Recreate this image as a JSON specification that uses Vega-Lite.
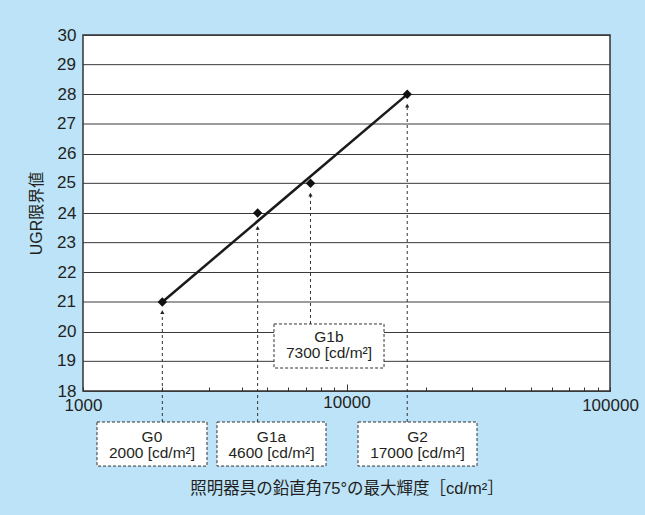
{
  "$schema": "https://vega.github.io/schema/vega-lite/v6.json",
  "width": 527,
  "height": 356,
  "autosize": {"type": "none"},
  "padding": {"left": 83, "top": 35, "right": 35, "bottom": 124},
  "background": "#bde3f8",
  "config": {
    "view": {"fill": "white", "stroke": "#333333", "strokeWidth": 1.5},
    "font": "Liberation Sans, Noto Sans CJK JP",
    "axis": {"labelFont": "Liberation Sans, Noto Sans CJK JP", "titleFont": "Liberation Sans, Noto Sans CJK JP", "labelColor": "#231f20", "titleColor": "#231f20", "titleFontWeight": "normal"},
    "axisY": {"labelOverlap": false, "labelFontSize": 17, "labelPadding": 7, "ticks": false, "domain": false, "grid": true, "gridColor": "#3a3a3a", "gridWidth": 1, "titleFontSize": 16, "titlePadding": 13}
  },
  "datasets": {
    "pts": [
      {"lum": 2000, "ugr": 21},
      {"lum": 4600, "ugr": 24},
      {"lum": 7300, "ugr": 25},
      {"lum": 17000, "ugr": 28}
    ],
    "fit": [
      {"lum": 2000, "ugr": 21},
      {"lum": 17000, "ugr": 28}
    ],
    "oddgrid": [
      {"g": 19}, {"g": 21}, {"g": 23}, {"g": 25}, {"g": 27}, {"g": 29}
    ],
    "ann": [
      {"g": "G0", "lum": 2000, "bx": 1130, "bx2": 2955, "by": 16.955, "by2": 15.47, "tx": 1827, "ty": 16.466, "tip": 20.66, "label": "G0\n2000 [cd/m²]"},
      {"g": "G1a", "lum": 4600, "bx": 3225, "bx2": 8360, "by": 16.955, "by2": 15.47, "tx": 5193, "ty": 16.466, "tip": 23.5, "label": "G1a\n4600 [cd/m²]"},
      {"g": "G1b", "lum": 7300, "bx": 5307, "bx2": 13880, "by": 20.26, "by2": 18.775, "tx": 8580, "ty": 19.82, "tip": 24.62, "label": "G1b\n7300 [cd/m²]"},
      {"g": "G2", "lum": 17000, "bx": 11060, "bx2": 31280, "by": 16.955, "by2": 15.47, "tx": 18600, "ty": 16.466, "tip": 27.62, "label": "G2\n17000 [cd/m²]"}
    ]
  },
  "layer": [
    {
      "data": {"name": "pts"},
      "mark": {"type": "point", "shape": "diamond", "filled": true, "color": "#111111", "size": 0, "opacity": 0},
      "encoding": {
        "x": {
          "field": "lum", "type": "quantitative",
          "scale": {"type": "log", "domain": [1000, 100000]},
          "axis": {
            "title": "照明器具の鉛直角75°の最大輝度［cd/m²］",
            "titleFontSize": 16.5,
            "titlePadding": 67,
            "values": [1000, 2000, 3000, 4000, 5000, 6000, 7000, 8000, 9000, 10000, 20000, 30000, 40000, 50000, 60000, 70000, 80000, 90000, 100000],
            "labelExpr": "(datum.value == 1000 || datum.value == 10000 || datum.value == 100000) ? format(datum.value, 'd') : ''",
            "labelFontSize": 17,
            "labelPadding": 10,
            "labelOverlap": false,
            "labelFlush": false,
            "grid": false,
            "domain": false,
            "tickColor": "#333333",
            "tickWidth": 1,
            "tickSize": {"condition": {"test": "datum.value == 10000", "value": -7}, "value": -4}
          }
        },
        "y": {
          "field": "ugr", "type": "quantitative",
          "scale": {"domain": [18, 30], "nice": false, "zero": false},
          "axis": {
            "title": "UGR限界値",
            "values": [18, 19, 20, 21, 22, 23, 24, 25, 26, 27, 28, 29, 30]
          }
        }
      }
    },
    {
      "data": {"name": "oddgrid"},
      "mark": {"type": "rule", "color": "#3a3a3a", "strokeWidth": 1},
      "encoding": {
        "y": {"field": "g", "type": "quantitative"}
      }
    },
    {
      "data": {"name": "oddgrid"},
      "mark": {"type": "text", "align": "right", "baseline": "middle", "dx": -7, "fontSize": 17, "color": "#231f20", "font": "Liberation Sans, Noto Sans CJK JP"},
      "encoding": {
        "x": {"datum": 1000, "type": "quantitative"},
        "y": {"field": "g", "type": "quantitative"},
        "text": {"field": "g", "type": "quantitative"}
      }
    },
    {
      "data": {"name": "ann"},
      "mark": {"type": "rule", "strokeDash": [3, 3], "color": "#333333", "strokeWidth": 1},
      "encoding": {
        "x": {"field": "lum", "type": "quantitative"},
        "y": {"field": "by", "type": "quantitative"},
        "y2": {"field": "tip"}
      }
    },
    {
      "data": {"name": "ann"},
      "mark": {"type": "point", "shape": "triangle-up", "filled": true, "color": "#222222", "size": 18, "opacity": 1},
      "encoding": {
        "x": {"field": "lum", "type": "quantitative"},
        "y": {"field": "tip", "type": "quantitative"}
      }
    },
    {
      "data": {"name": "ann"},
      "mark": {"type": "rect", "fill": "white", "stroke": "#333333", "strokeDash": [3, 2], "strokeWidth": 1},
      "encoding": {
        "x": {"field": "bx", "type": "quantitative"},
        "x2": {"field": "bx2"},
        "y": {"field": "by", "type": "quantitative"},
        "y2": {"field": "by2"}
      }
    },
    {
      "data": {"name": "ann"},
      "mark": {"type": "text", "lineBreak": "\n", "fontSize": 15.5, "lineHeight": 16, "align": "center", "baseline": "middle", "color": "#231f20"},
      "encoding": {
        "x": {"field": "tx", "type": "quantitative"},
        "y": {"field": "ty", "type": "quantitative"},
        "text": {"field": "label"}
      }
    },
    {
      "data": {"name": "fit"},
      "mark": {"type": "line", "color": "#1a1a1a", "strokeWidth": 2.5},
      "encoding": {
        "x": {"field": "lum", "type": "quantitative"},
        "y": {"field": "ugr", "type": "quantitative"}
      }
    },
    {
      "data": {"name": "pts"},
      "mark": {"type": "point", "shape": "diamond", "filled": true, "color": "#111111", "size": 90, "opacity": 1},
      "encoding": {
        "x": {"field": "lum", "type": "quantitative"},
        "y": {"field": "ugr", "type": "quantitative"}
      }
    }
  ]
}
